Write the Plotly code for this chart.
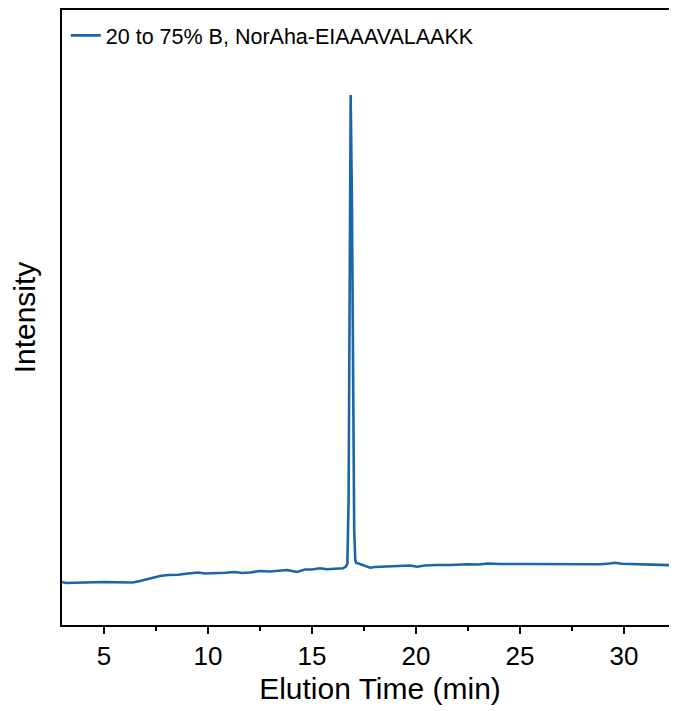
import plotly.graph_objects as go

# Elution time (min) and intensity (arbitrary units)
time_min = [2.98, 3.17, 3.60, 4.33, 5.00, 5.53, 6.00, 6.39, 6.73, 7.21, 7.69, 8.08,
            8.56, 9.04, 9.52, 9.86, 10.34, 10.82, 11.30, 11.63, 12.02, 12.50, 12.98,
            13.46, 13.80, 14.28, 14.66, 15.00, 15.38, 15.72, 16.11, 16.49, 16.63,
            16.70, 16.76, 16.80, 16.86, 16.92, 16.98, 17.03, 17.08, 17.13, 17.21,
            17.40, 17.60, 17.79, 18.03, 18.27, 18.75, 19.23, 19.71, 20.05, 20.43,
            21.00, 21.63, 22.45, 22.98, 23.46, 24.04, 25.00, 25.96, 26.92, 27.88,
            28.85, 29.33, 29.57, 29.90, 30.77, 31.49, 32.55, 33.60]
intensity = [43.0, 42.0, 42.2, 42.7, 43.0, 42.7, 42.5, 42.5, 44.0, 46.5, 49.0, 50.0,
             50.2, 51.5, 52.5, 51.5, 51.5, 52.2, 53.0, 52.0, 52.5, 54.0, 53.5,
             54.5, 55.0, 53.0, 55.5, 55.5, 56.7, 55.7, 56.5, 56.7, 58.5,
             61.0, 125.0, 325.0, 530.0, 425.0, 225.0, 95.0, 65.0, 62.0, 61.7,
             60.0, 58.5, 57.3, 58.0, 58.3, 58.5, 59.0, 59.5, 58.3, 59.5,
             60.0, 60.0, 60.8, 60.5, 61.5, 61.0, 61.0, 61.0, 61.0, 60.7,
             60.8, 61.5, 62.2, 61.2, 60.7, 60.0, 59.7, 59.6]

series_name = "20 to 75% B, NorAha-EIAAAVALAAKK"
x_ticks = [5, 10, 15, 20, 25, 30]

fig = go.Figure()
fig.add_trace(go.Scatter(
    x=time_min, y=intensity, mode="lines", name=series_name,
    line=dict(color="#1a66a8", width=2.6), showlegend=True,
))

fig.update_layout(
    width=690, height=701,
    margin=dict(l=54, r=0, t=2, b=84),
    paper_bgcolor="white", plot_bgcolor="white",
    font=dict(family="Liberation Sans, Arial, sans-serif", color="black"),
    showlegend=True,
    legend=dict(x=0.006, y=0.992, xanchor="left", yanchor="top",
                bgcolor="rgba(0,0,0,0)", borderwidth=0,
                font=dict(size=21.5, color="black"),
                itemwidth=30, tracegroupgap=0),
    xaxis=dict(
        range=[2.98, 33.56], tickvals=x_ticks, automargin=False,
        ticks="outside", ticklen=7, tickwidth=2, tickcolor="black",
        tickfont=dict(size=26),
        minor=dict(dtick=2.5, tick0=0, ticks="outside", ticklen=4, tickwidth=2, tickcolor="black"),
        showline=True, linewidth=2, linecolor="black", mirror=True,
        showgrid=False, zeroline=False,
        title=dict(text="Elution Time (min)", font=dict(size=30), standoff=8),
    ),
    yaxis=dict(
        range=[0, 615], showticklabels=False, ticks="", automargin=False,
        showline=True, linewidth=2, linecolor="black", mirror=False,
        showgrid=False, zeroline=False,
        title=dict(text="Intensity", font=dict(size=30), standoff=16),
    ),
)

fig.write_html("out.html")
